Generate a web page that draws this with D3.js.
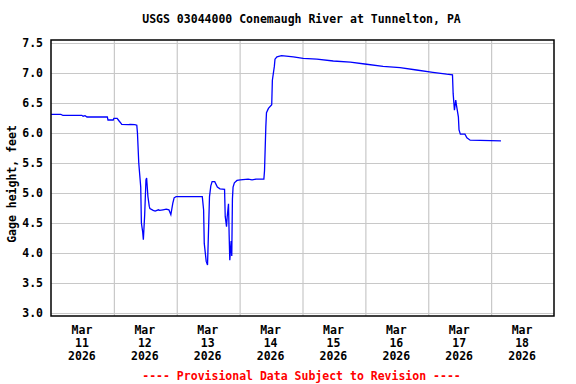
<!DOCTYPE html>
<html>
<head>
<meta charset="utf-8">
<script src="https://cdn.jsdelivr.net/npm/d3@7"></script>
<style>
  body { margin: 0; background: #fff; }
  text { font-family: "DejaVu Sans Mono", monospace; font-weight: bold; }
</style>
</head>
<body>
<div id="chart"></div>
<script>
// gage height readings (time, feet)
const times = [
  "03-10 12:00","03-10 15:45","03-10 16:15","03-10 16:30","03-10 23:45","03-11 00:15","03-11 01:00","03-11 01:45",
  "03-11 09:30","03-11 09:45","03-11 11:45","03-11 12:00","03-11 13:15","03-11 14:00","03-11 14:45","03-11 15:00",
  "03-11 17:30","03-11 18:15","03-11 20:00","03-11 20:45","03-11 21:00","03-11 21:30","03-11 22:15","03-11 22:30",
  "03-11 23:00","03-11 23:15","03-11 23:45","03-12 00:15","03-12 00:30","03-12 01:00","03-12 01:30","03-12 01:45",
  "03-12 03:00","03-12 03:45","03-12 05:00","03-12 05:30","03-12 06:45","03-12 08:00","03-12 09:00","03-12 09:45",
  "03-12 10:30","03-12 11:00","03-12 11:45","03-12 21:45","03-12 22:15","03-12 22:30","03-12 23:15","03-12 23:45",
  "03-13 00:30","03-13 01:00","03-13 01:30","03-13 02:30","03-13 03:30","03-13 04:30","03-13 06:15","03-13 06:30",
  "03-13 07:00","03-13 07:15","03-13 07:45","03-13 08:00","03-13 08:15","03-13 08:45","03-13 09:00","03-13 09:15",
  "03-13 09:30","03-13 10:00","03-13 11:00","03-13 12:15","03-13 15:15","03-13 16:45","03-13 18:15","03-13 21:15",
  "03-13 21:30","03-13 22:00","03-13 22:15","03-13 23:00","03-14 00:15","03-14 00:30","03-14 01:15","03-14 01:30",
  "03-14 02:15","03-14 04:00","03-14 08:30","03-14 12:15","03-14 17:30","03-14 23:45","03-15 06:15","03-15 11:45",
  "03-15 18:45","03-16 01:15","03-16 07:30","03-16 13:45","03-16 19:00","03-16 21:15","03-16 21:30","03-16 22:00",
  "03-16 22:30","03-16 22:45","03-16 23:30","03-16 23:45","03-17 00:15","03-17 02:00","03-17 02:45","03-17 04:00",
  "03-17 15:45"
];
const heights = [
  6.31,6.31,6.30,6.295,6.295,6.28,6.29,6.267,
  6.267,6.217,6.217,6.245,6.245,6.20,6.16,6.145,
  6.14,6.145,6.14,6.13,6.0,5.5,5.1,4.5,
  4.35,4.22,4.63,5.22,5.25,4.94,4.78,4.74,
  4.71,4.70,4.72,4.71,4.72,4.73,4.72,4.64,
  4.83,4.92,4.94,4.94,4.72,4.16,3.86,3.80,
  4.94,5.12,5.19,5.19,5.10,5.07,5.06,4.61,
  4.44,4.60,4.82,4.30,3.88,4.20,3.95,4.90,
  5.10,5.17,5.21,5.22,5.23,5.22,5.23,5.23,
  5.37,6.10,6.34,6.41,6.47,6.88,7.11,7.23,
  7.27,7.29,7.27,7.245,7.23,7.20,7.18,7.15,
  7.11,7.09,7.05,7.01,6.98,6.97,6.66,6.38,
  6.55,6.47,6.27,6.05,5.98,5.98,5.92,5.88,
  5.87
];
const yTicks = [3.0, 3.5, 4.0, 4.5, 5.0, 5.5, 6.0, 6.5, 7.0, 7.5];
const dayLabels = ["11", "12", "13", "14", "15", "16", "17", "18"];
const monthLabel = "Mar";
const yearLabel = "2026";

const W = 576, H = 384;
const box = { left: 51, top: 40, right: 554, bottom: 316 };

const parse = s => {
  const [md, hm] = s.split(" ");
  const [mo, da] = md.split("-").map(Number);
  const [hh, mi] = hm.split(":").map(Number);
  return new Date(Date.UTC(2026, mo - 1, da, hh, mi));
};
const data = times.map((t, i) => ({ t: parse(t), v: heights[i] }));

const x = d3.scaleUtc()
  .domain([new Date(Date.UTC(2026, 2, 10, 12)), new Date(Date.UTC(2026, 2, 18, 12))])
  .range([box.left, box.right]);
const y = d3.scaleLinear()
  .domain([3.0, 7.5])
  .range([313, 43]);

const svg = d3.select("#chart").append("svg")
  .attr("width", W).attr("height", H);

// grid
const noonTicks = dayLabels.slice(0, 7).map(d => new Date(Date.UTC(2026, 2, +d, 12)));
svg.append("g")
  .attr("transform", `translate(0,${box.bottom})`)
  .call(d3.axisBottom(x).tickValues(noonTicks).tickSize(-(box.bottom - box.top)).tickFormat(""))
  .call(g => g.select(".domain").remove())
  .call(g => g.selectAll("line").attr("stroke", "#c8c8c8").attr("stroke-width", 1.2));

svg.append("g")
  .attr("transform", `translate(${box.left},0)`)
  .call(d3.axisLeft(y).tickValues(yTicks).tickSize(-(box.right - box.left)).tickFormat(""))
  .call(g => g.select(".domain").remove())
  .call(g => g.selectAll("line").attr("stroke", "#c8c8c8").attr("stroke-width", 1.2));

// y tick labels
svg.append("g")
  .attr("transform", `translate(${box.left},0)`)
  .call(d3.axisLeft(y).tickValues(yTicks).tickSize(0).tickPadding(8).tickFormat(d3.format(".1f")))
  .call(g => g.select(".domain").remove())
  .call(g => g.selectAll("text").attr("font-size", "11.5px").attr("fill", "#000")
    .style("font-family", '"DejaVu Sans Mono", monospace').style("font-weight", "bold"));

// x tick labels
const midTicks = dayLabels.map(d => new Date(Date.UTC(2026, 2, +d, 0)));
const xAx = svg.append("g")
  .attr("transform", `translate(0,${box.bottom})`)
  .call(d3.axisBottom(x).tickValues(midTicks).tickSize(0).tickFormat(""))
  .call(g => g.select(".domain").remove());
xAx.selectAll(".tick text").remove();
xAx.selectAll(".tick").each(function(d, i) {
  const t = d3.select(this).append("text")
    .attr("text-anchor", "middle")
    .attr("font-size", "11.5px")
    .attr("fill", "#000")
    .style("font-family", '"DejaVu Sans Mono", monospace')
    .style("font-weight", "bold");
  [monthLabel, dayLabels[i], yearLabel].forEach((s, k) => {
    t.append("tspan").attr("x", -1).attr("y", 18 + k * 13).text(s);
  });
});

// data line
svg.append("path")
  .datum(data)
  .attr("fill", "none")
  .attr("stroke", "#0000ff")
  .attr("stroke-width", 1.3)
  .attr("d", d3.line().x(d => x(d.t)).y(d => y(d.v)));

// plot frame
svg.append("rect")
  .attr("x", box.left).attr("y", box.top)
  .attr("width", box.right - box.left).attr("height", box.bottom - box.top)
  .attr("fill", "none").attr("stroke", "#000").attr("stroke-width", 1.5);

// title & labels
const cx = (box.left + box.right) / 2 - 1;
svg.append("text")
  .attr("x", cx).attr("y", 23)
  .attr("text-anchor", "middle").attr("font-size", "11.5px")
  .text("USGS 03044000 Conemaugh River at Tunnelton, PA");

svg.append("text")
  .attr("transform", `translate(16,184) rotate(-90)`)
  .attr("text-anchor", "middle").attr("font-size", "11.5px")
  .text("Gage height, feet");

svg.append("text")
  .attr("x", cx).attr("y", 380)
  .attr("text-anchor", "middle").attr("font-size", "11.5px")
  .attr("fill", "#ff0000")
  .text("---- Provisional Data Subject to Revision ----");
</script>
</body>
</html>
